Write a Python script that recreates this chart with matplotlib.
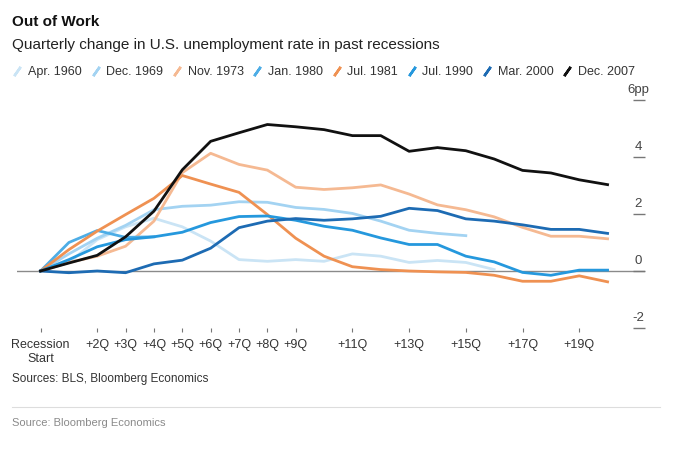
import numpy as np
import matplotlib
matplotlib.use('Agg')
import matplotlib.pyplot as plt
from matplotlib.lines import Line2D

plt.rcParams['font.family'] = ['Liberation Sans', 'DejaVu Sans']

# Veränderung der Arbeitslosenquote (pp) je Quartal ab Rezessionsbeginn
labels = ['Apr. 1960', 'Dec. 1969', 'Nov. 1973', 'Jan. 1980',
          'Jul. 1981', 'Jul. 1990', 'Mar. 2000', 'Dec. 2007']
colors = ['#cae4f5', '#a3d3f2', '#f5b992', '#4dade6',
          '#ef9152', '#2598dd', '#1d6bb3', '#111111']

apr1960 = [0, 0.3, 1.1, 1.55, 1.85, 1.55, 1.05, 0.4, 0.34, 0.4, 0.34,
           0.6, 0.52, 0.3, 0.37, 0.3, 0.05]
dec1969 = [0, 0.6, 1.15, 1.6, 2.15, 2.27, 2.31, 2.43, 2.41, 2.23, 2.16,
           2.02, 1.75, 1.43, 1.32, 1.24]
nov1973 = [0, 0.3, 0.52, 0.87, 1.75, 3.45, 4.13, 3.74, 3.54, 2.94, 2.86,
           2.92, 3.02, 2.7, 2.32, 2.15, 1.9, 1.53, 1.22, 1.22, 1.13]
jan1980 = [0, 1.0, 1.42, 1.18, 1.2]
jul1981 = [0, 0.75, 1.4, 1.98, 2.55, 3.35, 3.05, 2.76, 1.98, 1.15, 0.52,
           0.15, 0.05, 0.0, -0.03, -0.05, -0.15, -0.36, -0.36, -0.17, -0.38]
jul1990 = [0, 0.4, 0.85, 1.1, 1.2, 1.36, 1.7, 1.91, 1.93, 1.78, 1.57,
           1.43, 1.16, 0.93, 0.93, 0.52, 0.32, -0.05, -0.15, 0.03, 0.03]
mar2000 = [0, -0.06, 0.0, -0.06, 0.25, 0.38, 0.8, 1.52, 1.75, 1.84, 1.78,
           1.83, 1.92, 2.2, 2.12, 1.83, 1.75, 1.62, 1.46, 1.46, 1.32]
dec2007 = [0, 0.28, 0.55, 1.2, 2.1, 3.55, 4.55, 4.85, 5.14, 5.06, 4.96,
           4.75, 4.75, 4.2, 4.33, 4.22, 3.93, 3.53, 3.44, 3.2, 3.03]
series = [apr1960, dec1969, nov1973, jan1980, jul1981, jul1990, mar2000, dec2007]

tick_quarters = [0, 2, 3, 4, 5, 6, 7, 8, 9, 11, 13, 15, 17, 19]
tick_labels = ['Recession\nStart', '+2Q', '+3Q', '+4Q', '+5Q', '+6Q', '+7Q',
               '+8Q', '+9Q', '+11Q', '+13Q', '+15Q', '+17Q', '+19Q']
y_ticks = [-2, 0, 2, 4, 6]
y_tick_labels = ['-2', '0', '2', '4', '6pp']


def createPlot(ax):
    ax.axhline(0, color='#8a8a8a', lw=1.0, zorder=1)
    for vals, lab, col in zip(series, labels, colors):
        ax.plot(np.arange(len(vals)), vals, color=col, lw=2.0, label=lab, zorder=2)

    ax.set_xlim(-0.83, 21.32)
    ax.set_ylim(-2, 6)
    for s in ax.spines.values():
        s.set_visible(False)

    ax.set_xticks(tick_quarters, tick_labels)
    ax.tick_params(axis='x', length=3, width=0.8, color='#777777', pad=5,
                   labelsize=9, labelcolor='#333333')

    ax.yaxis.tick_right()
    ax.set_yticks(y_ticks)
    ax.tick_params(axis='y', direction='in', length=8.6, width=1.0,
                   color='#777777', labelright=False)
    for v, lab in zip(y_ticks, y_tick_labels):
        ax.annotate(lab, xy=(1, v), xycoords=('axes fraction', 'data'),
                    xytext=(-5, 3), textcoords='offset points',
                    ha='center', va='bottom', fontsize=9.5, color='#444444')


if __name__ == '__main__':
    fig = plt.figure(figsize=(7, 4.5), dpi=100)
    ax = fig.add_axes([17 / 700, 122 / 450, 628 / 700, 228 / 450])
    createPlot(ax)

    fig.text(12 / 700, 1 - 22 / 450, 'Out of Work', fontsize=11,
             fontweight='bold', va='center', color='#111111')
    fig.text(12 / 700, 1 - 45 / 450,
             'Quarterly change in U.S. unemployment rate in past recessions',
             fontsize=11, va='center', color='#222222')

    handles = [Line2D([0], [0], lw=0, marker=(2, 2, -35), ms=8, mew=1.8,
                      mec=c, color=c) for c in colors]
    leg = fig.legend(handles, labels, loc='center left',
                     bbox_to_anchor=(13 / 700, 1 - 72 / 450), ncol=8,
                     frameon=False, fontsize=9, handlelength=0.7,
                     handletextpad=0.5, columnspacing=0.75,
                     borderaxespad=0, borderpad=0)
    for t in leg.get_texts():
        t.set_color('#333333')

    fig.text(12 / 700, 1 - 379 / 450, 'Sources: BLS, Bloomberg Economics',
             fontsize=8.5, va='center', color='#333333')
    fig.add_artist(Line2D([12 / 700, 660 / 700], [1 - 407 / 450] * 2,
                          color='#dddddd', lw=0.8))
    fig.text(12 / 700, 1 - 423 / 450, 'Source: Bloomberg Economics',
             fontsize=8, va='center', color='#8a8a8a')

    plt.savefig('out.png', dpi=100)
